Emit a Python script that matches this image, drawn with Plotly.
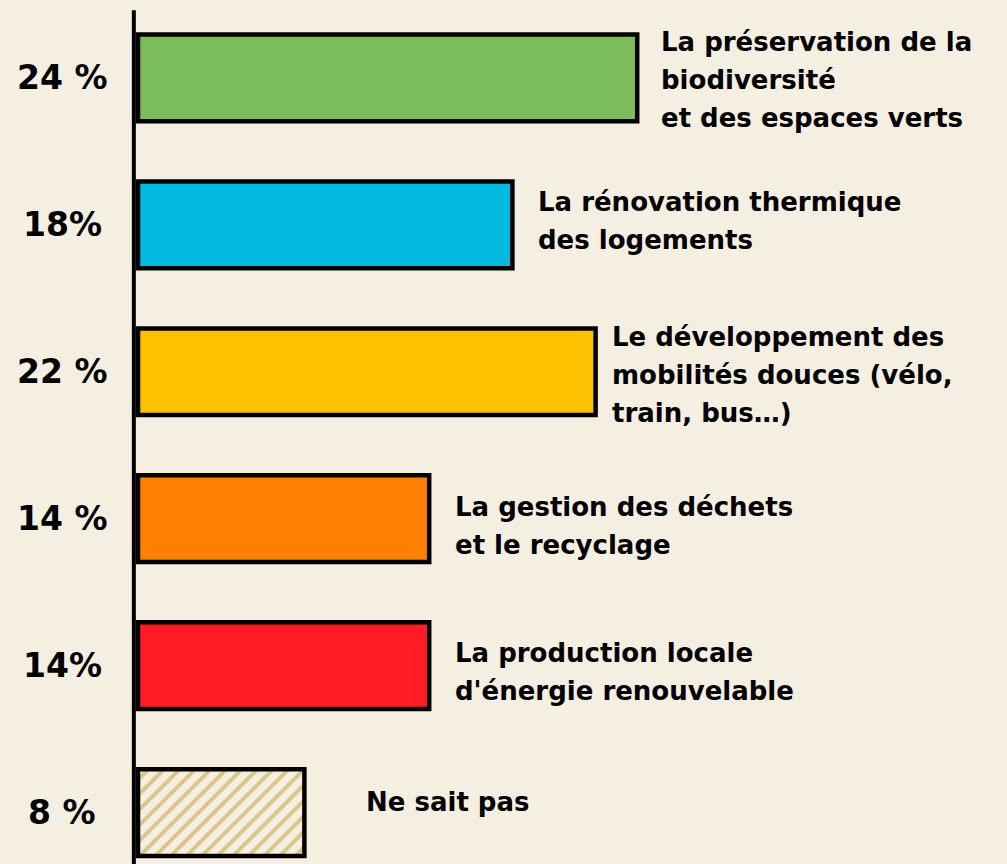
import plotly.graph_objects as go

# Survey results: priorities for the territory
categories = [
    ["La préservation de la", "biodiversité", "et des espaces verts"],
    ["La rénovation thermique", "des logements"],
    ["Le développement des", "mobilités douces (vélo,", "train, bus…)"],
    ["La gestion des déchets", "et le recyclage"],
    ["La production locale", "d'énergie renouvelable"],
    ["Ne sait pas"],
]
values = [24, 18, 22, 14, 14, 8]
value_labels = ["24 %", "18%", "22 %", "14 %", "14%", "8 %"]
colors = ["#7BBD5A", "#00B8E0", "#FFC000", "#FF7F00", "#FF1C24"]

BG = "#F4EFE1"
HATCH = "#DCC386"
FONT = "DejaVu Sans"
positions = list(range(len(values)))
n_solid = len(colors)

fig = go.Figure()
fig.add_trace(go.Bar(
    x=values[:n_solid],
    y=positions[:n_solid],
    orientation="h",
    width=0.59,
    marker=dict(color=colors, line=dict(color="black", width=4.5)),
    hoverinfo="skip",
))
# "Ne sait pas" drawn with a diagonal hatch
fig.add_trace(go.Bar(
    x=values[n_solid:],
    y=positions[n_solid:],
    orientation="h",
    width=0.59,
    marker=dict(
        color=BG,
        line=dict(color="black", width=4.5),
        pattern=dict(shape="/", fgcolor=HATCH, bgcolor=BG,
                     fillmode="replace", size=11, solidity=0.35,
                     fgopacity=1),
    ),
    hoverinfo="skip",
))

# gap between bar end and its category label (px),
# downward offset of the label block (px), line spacing (px)
label_gaps = [22, 24, 14, 24, 24, 60]
label_offsets = [2, -4, 3, 7, 6, -11]
LINE_H = 38
for pos, val, lines, gap, off in zip(positions, values, categories,
                                     label_gaps, label_offsets):
    n = len(lines)
    for i, line in enumerate(lines):
        fig.add_annotation(
            x=val, y=pos, xref="x", yref="y", text=line, showarrow=False,
            xanchor="left", yanchor="middle", align="left", xshift=gap,
            yshift=((n - 1) / 2 - i) * LINE_H - off,
            font=dict(family=FONT, size=26, color="#000000", weight="bold"),
        )

for pos, lab in zip(positions, value_labels):
    fig.add_annotation(
        x=62 / 1007, y=pos, xref="paper", yref="y", text=lab, showarrow=False,
        xanchor="center", yanchor="middle",
        font=dict(family=FONT, size=33, color="#000000", weight="bold"),
    )

# vertical baseline
fig.add_shape(type="line", xref="x", yref="paper", x0=-0.2, x1=-0.2,
              y0=0, y1=0.988, line=dict(color="black", width=4))

fig.update_layout(
    width=1007, height=864,
    margin=dict(l=0, r=0, t=0, b=0),
    paper_bgcolor=BG, plot_bgcolor=BG,
    showlegend=False,
    barmode="overlay",
    xaxis=dict(range=[-138 / 20.8, (1007 - 138) / 20.8], visible=False,
               fixedrange=True),
    yaxis=dict(range=[5.35, -0.53], visible=False, fixedrange=True),
)

fig.write_html("out.html")
